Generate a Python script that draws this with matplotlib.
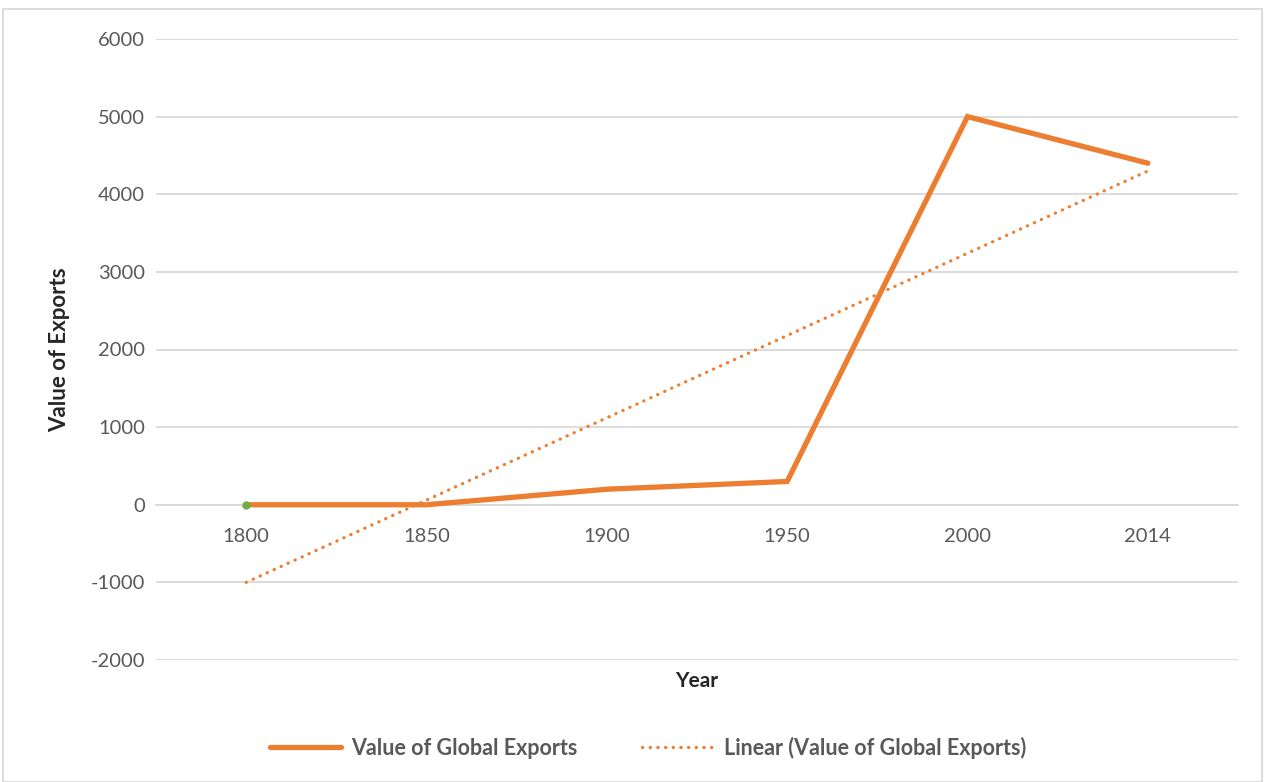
import matplotlib.pyplot as plt
from matplotlib.patches import Rectangle
import numpy as np

years = ["1800", "1850", "1900", "1950", "2000", "2014"]
exports = [0, 0, 200, 300, 5000, 4400]
y_ticks = [-2000, -1000, 0, 1000, 2000, 3000, 4000, 5000, 6000]

orange = "#ED7D31"
green = "#70AD47"
grey_txt = "#595959"
grid_col = "#D9D9D9"

plt.rcParams['font.family'] = ['Lato', 'DejaVu Sans']

fig = plt.figure(figsize=(12.67, 7.82), dpi=100)
ax = fig.add_axes([156/1267, 1 - 660/782, (1238-156)/1267, (660-39)/782])

x = np.arange(len(years))

# linear trendline, as excel does it on category index
k, b = np.polyfit(x + 1, exports, 1)
trend = k * (x + 1) + b

line, = ax.plot(x, exports, color=orange, lw=3.8, solid_capstyle='round',
                solid_joinstyle='miter', zorder=3, label="Value of Global Exports")
ax.plot(x[0], exports[0], 'o', color=green, ms=5, zorder=4)
tl, = ax.plot(x, trend, color=orange, lw=2.3, linestyle=(0, (0.1, 2.3)),
              dash_capstyle='round', zorder=2, label="Linear (Value of Global Exports)")

ax.set_xlim(-0.5, len(years) - 0.5)
ax.set_ylim(-2000, 6000)
ax.set_yticks(y_ticks)
ax.set_yticklabels([str(v) for v in y_ticks])
ax.set_xticks(x)
ax.set_xticklabels(years)
ax.tick_params(length=0, labelsize=14.5, colors=grey_txt)
ax.tick_params(axis='y', pad=8)
ax.tick_params(axis='x', pad=17)

ax.grid(axis='y', color=grid_col, lw=1.3)
ax.set_axisbelow(True)
for s in ['top', 'right', 'left']:
    ax.spines[s].set_visible(False)
ax.spines['bottom'].set_position(('data', 0))
ax.spines['bottom'].set_color(grid_col)
ax.spines['bottom'].set_linewidth(1.3)

fig.text(60/1267, 1 - 350/782, "Value of Exports", rotation=90, ha='center', va='center',
         fontsize=16, fontweight='bold', color="#262626")
fig.text(697/1267, 1 - 681/782, "Year", ha='center', va='center',
         fontsize=15, fontweight='bold', color="#262626")

leg = fig.legend(handles=[line, tl], loc='center', bbox_to_anchor=(648/1267, 1 - 748/782),
                 ncol=2, frameon=False, handlelength=3.3, columnspacing=3.0, handletextpad=0.5,
                 prop={'size': 15.5, 'weight': 'bold'})
for t in leg.get_texts():
    t.set_color(grey_txt)

fig.patches.append(Rectangle((3/1267, 0), 1259/1267, 1 - 9/782, transform=fig.transFigure,
                             fill=False, edgecolor=grid_col, lw=1.3))

fig.savefig("out.png", dpi=100)
